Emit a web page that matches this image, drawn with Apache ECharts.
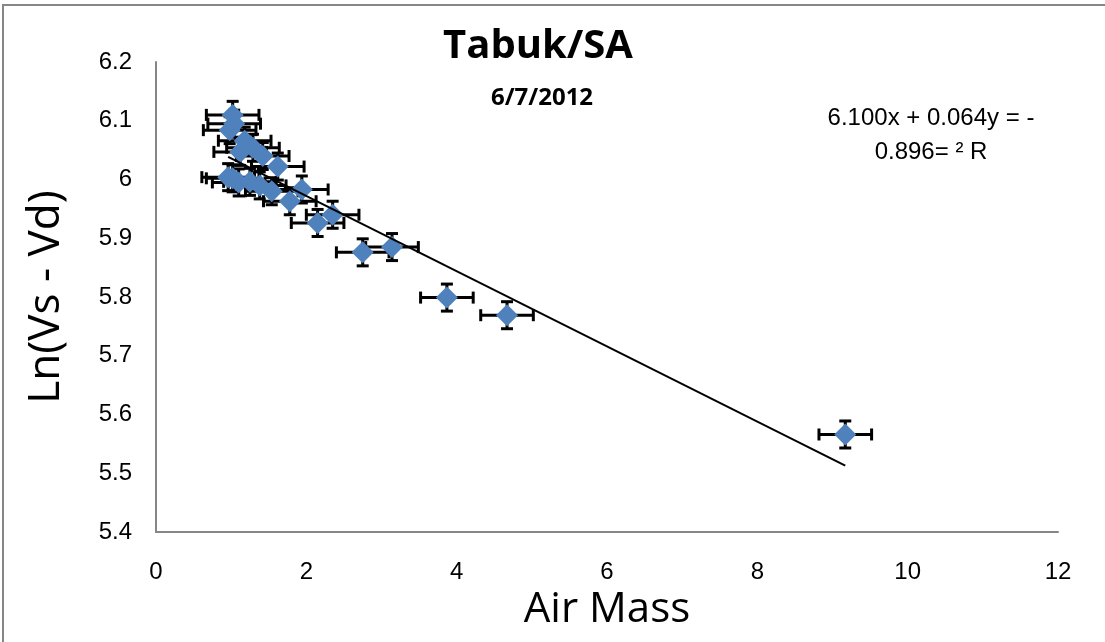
<!DOCTYPE html>
<html>
<head>
    <meta charset="utf-8">
    <title>Tabuk/SA</title>
    <script src="https://cdn.jsdelivr.net/npm/echarts@6/dist/echarts.min.js"></script>
</head>
<body style="margin:0">
    <div id="main" style="width: 1105px;height:642px;"></div>
    <script type="text/javascript">
        // air mass and ln(Vs - Vd)
        var airMass = [1.02, 1.04, 0.98, 1.18, 1.29, 1.12, 1.42, 1.62,
                       0.96, 1.02, 1.10, 1.25, 1.38, 1.54, 1.78, 1.94,
                       2.15, 2.35, 2.75, 3.14, 3.87, 4.67, 9.17];
        var lnV = [6.110, 6.095, 6.084, 6.066, 6.054, 6.047, 6.040, 6.022,
                   6.004, 6.002, 5.995, 5.996, 5.990, 5.980, 5.963, 5.983,
                   5.926, 5.940, 5.876, 5.885, 5.799, 5.769, 5.566];
        var xErr = 0.35;
        var yErr = 0.023;
        // trendline from the chart's own equation
        var slope = -0.064;
        var intercept = 6.100;
        var xTicks = [0, 2, 4, 6, 8, 10, 12];
        var yTicks = [5.4, 5.5, 5.6, 5.7, 5.8, 5.9, 6, 6.1, 6.2];

        var pts = [];
        for (var i = 0; i < airMass.length; i++) {
            pts.push([airMass[i], lnV[i]]);
        }
        var xMin = Math.min.apply(null, airMass);
        var xMax = Math.max.apply(null, airMass);
        var trend = [[xMin, intercept + slope * xMin], [xMax, intercept + slope * xMax]];

        function errBar(params, api) {
            var x = api.value(0), y = api.value(1);
            var l = api.coord([x - xErr, y]), r = api.coord([x + xErr, y]);
            var t = api.coord([x, y + yErr]), b = api.coord([x, y - yErr]);
            var cap = 6;
            var st = { stroke: '#000', lineWidth: 3 };
            function ln(x1, y1, x2, y2) {
                return { type: 'line', shape: { x1: x1, y1: y1, x2: x2, y2: y2 }, style: st };
            }
            return {
                type: 'group',
                children: [
                    ln(l[0], l[1], r[0], r[1]),
                    ln(l[0], l[1] - cap, l[0], l[1] + cap),
                    ln(r[0], r[1] - cap, r[0], r[1] + cap),
                    ln(t[0], t[1], b[0], b[1]),
                    ln(t[0] - cap, t[1], t[0] + cap, t[1]),
                    ln(b[0] - cap, b[1], b[0] + cap, b[1])
                ]
            };
        }

        var myChart = echarts.init(document.getElementById('main'));
        var option = {
            backgroundColor: '#fff',
            animation: false,
            grid: { left: 156, right: 47, top: 62, bottom: 110 },
            graphic: [
                { type: 'rect', shape: { x: 3, y: 5, width: 1130, height: 670 },
                  style: { fill: 'none', stroke: '#868686', lineWidth: 2 }, silent: true },
                { type: 'text', x: 538, y: 47, style: { text: 'Tabuk/SA', fontFamily: 'Open Sans', fontWeight: 'bold',
                  fontSize: 40, fill: '#000', textAlign: 'center', textVerticalAlign: 'middle' } },
                { type: 'text', x: 542, y: 98, style: { text: '6/7/2012', fontFamily: 'Open Sans', fontWeight: 'bold',
                  fontSize: 24, fill: '#000', textAlign: 'center', textVerticalAlign: 'middle' } },
                { type: 'text', x: 931, y: 118, style: { text: '6.100x + 0.064y = -', fontFamily: 'Liberation Sans',
                  fontSize: 24, fill: '#000', textAlign: 'center', textVerticalAlign: 'middle' } },
                { type: 'text', x: 931, y: 152, style: { text: '0.896= \u00b2 R', fontFamily: 'Liberation Sans',
                  fontSize: 24, fill: '#000', textAlign: 'center', textVerticalAlign: 'middle' } }
            ],
            xAxis: {
                type: 'value', min: xTicks[0], max: xTicks[xTicks.length - 1], interval: 2,
                name: 'Air Mass', nameLocation: 'middle', nameGap: 50,
                nameTextStyle: { fontFamily: 'Open Sans', fontSize: 42, color: '#000' },
                axisLine: { lineStyle: { color: '#868686', width: 2 } },
                axisTick: { show: false }, splitLine: { show: false },
                axisLabel: { fontFamily: 'Liberation Sans', fontSize: 24, color: '#000', margin: 28 }
            },
            yAxis: {
                type: 'value', min: yTicks[0], max: yTicks[yTicks.length - 1], interval: 0.1,
                name: 'Ln(Vs - Vd)', nameLocation: 'middle', nameGap: 88,
                nameTextStyle: { fontFamily: 'Open Sans', fontSize: 44, color: '#000' },
                axisLine: { show: true, lineStyle: { color: '#868686', width: 2 } },
                axisTick: { show: false }, splitLine: { show: false },
                axisLabel: { fontFamily: 'Liberation Sans', fontSize: 24, color: '#000', margin: 24,
                    formatter: function (v) { return String(Math.round(v * 10) / 10); } }
            },
            series: [
                { type: 'custom', data: pts, renderItem: errBar, z: 2, silent: true },
                { type: 'scatter', data: pts, symbol: 'diamond', symbolSize: 22, z: 3,
                  itemStyle: { color: '#4F81BD', opacity: 1 } },
                { type: 'line', data: trend, showSymbol: false, z: 4,
                  lineStyle: { color: '#000', width: 2 } }
            ]
        };
        myChart.setOption(option);
    </script>
</body>
</html>
